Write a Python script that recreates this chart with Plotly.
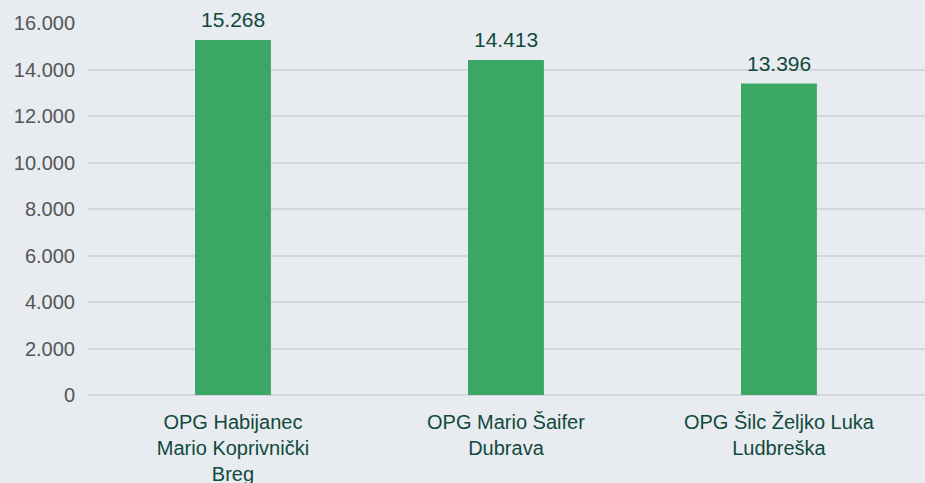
import plotly.graph_objects as go

categories = ["OPG Habijanec<br>Mario Koprivnički<br>Breg", "OPG Mario Šaifer<br>Dubrava", "OPG Šilc Željko Luka<br>Ludbreška"]
values = [15268, 14413, 13396]
value_labels = ["15.268", "14.413", "13.396"]
tick_vals = [0, 2000, 4000, 6000, 8000, 10000, 12000, 14000, 16000]
tick_text = ["0", "2.000", "4.000", "6.000", "8.000", "10.000", "12.000", "14.000", "16.000"]

FONT = "Liberation Sans, Arial, Helvetica, sans-serif"
positions = list(range(len(categories)))

fig = go.Figure(go.Bar(
    x=positions, y=values,
    marker=dict(color="#3aa864", line=dict(width=0)), width=0.278,
    hoverinfo="skip",
))
for xi, v, lbl in zip(positions, values, value_labels):
    fig.add_annotation(x=xi, y=v, text=lbl, showarrow=False, yanchor="bottom",
                       yshift=7, font=dict(color="#0f4a3c", size=21, family=FONT))
fig.update_layout(
    width=925, height=483,
    margin=dict(l=88, r=0, t=23, b=88),
    paper_bgcolor="#e8ebf0", plot_bgcolor="#e8ebf0",
    font=dict(family=FONT, size=20, color="#555555"),
    showlegend=False,
    xaxis=dict(range=[-0.531, 2.535], tickvals=positions, ticktext=categories,
               tickfont=dict(color="#0f4a3c", size=20), showgrid=False, zeroline=False,
               showline=False, ticks="outside", ticklen=9, tickcolor="rgba(0,0,0,0)",
               automargin=False),
    yaxis=dict(range=[0, 16000], tickvals=tick_vals, ticktext=tick_text,
               tickfont=dict(color="#555555", size=20), gridcolor="#d3d6db", gridwidth=1.5,
               zeroline=True, zerolinecolor="#d3d6db", zerolinewidth=2,
               ticks="outside", ticklen=8, tickcolor="rgba(0,0,0,0)", automargin=False),
)
fig.write_html("out.html", config={"displayModeBar": False},
               post_script="document.body.style.margin='0';document.body.style.padding='0';")
